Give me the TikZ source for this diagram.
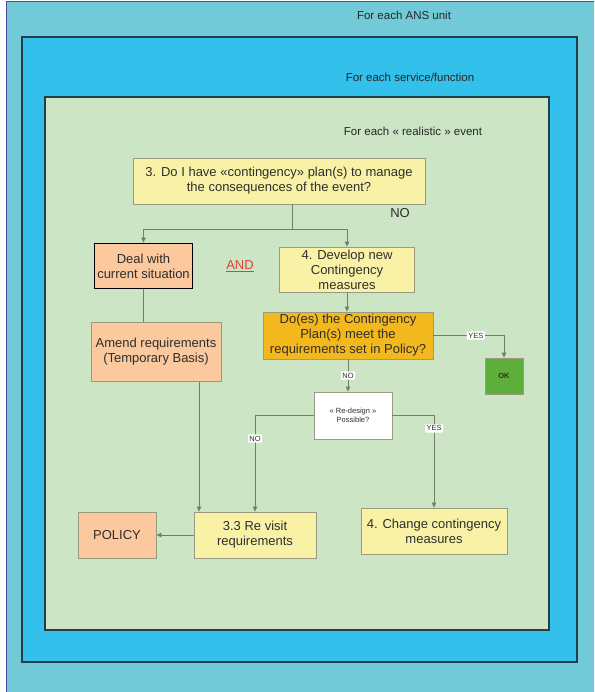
\documentclass[tikz,border=0pt]{standalone}
\usepackage{fontspec}
\setmainfont{Liberation Sans}
\usetikzlibrary{arrows.meta}
\definecolor{outerbg}{HTML}{72CAD8}
\definecolor{midbg}{HTML}{33C1EC}
\definecolor{innerbg}{HTML}{CCE5C4}
\definecolor{framec}{HTML}{1F3F4A}
\definecolor{boxyellow}{HTML}{F9F2A6}
\definecolor{boxorange}{HTML}{FBC99D}
\definecolor{boxgold}{HTML}{F4B81F}
\definecolor{boxgreen}{HTML}{5EAE3A}
\definecolor{edgegray}{HTML}{9A9A80}
\definecolor{linec}{HTML}{6F7F6A}
\definecolor{txt}{HTML}{2E2E2E}
\definecolor{andred}{HTML}{D9453A}
\tikzset{
  x=1pt, y=-1pt,
  every node/.style={text=txt, font=\fontsize{13}{15}\selectfont},
  flowbox/.style={draw=edgegray, line width=0.8pt, align=center, inner sep=2pt},
  yellowbox/.style={flowbox, fill=boxyellow},
  orangebox/.style={flowbox, fill=boxorange},
  tag/.style={fill=white, rounded corners=1pt, inner sep=1.5pt,
    font=\fontsize{7.5}{8}\selectfont},
  conn/.style={draw=linec, line width=0.8pt},
  arr/.style={conn, -{Triangle[length=5pt,width=4.5pt]}},
  frametitle/.style={font=\fontsize{11.5}{13}\selectfont, text=black!85}
}
\begin{document}
\begin{tikzpicture}
\useasboundingbox (0,0) rectangle (594,692);
\clip (0,0) rectangle (594,692);
% nested scope frames
\fill[white] (0,0) rectangle (594,692);
\draw[fill=outerbg, draw=blue!50!black!70, line width=0.6pt] (6,1) rectangle (600,700);
\draw[fill=midbg, draw=framec, line width=1.4pt] (22,37) rectangle (577,662);
\draw[fill=innerbg, draw=framec, line width=1.4pt] (45,97) rectangle (549,630);
\node[frametitle] (tunit) at (404,15) {For each ANS unit};
\node[frametitle] (tserv) at (410,77) {For each service/function};
\node[frametitle] (tevent) at (413,131) {For each « realistic » event};

% boxes
\node[yellowbox, minimum width=292pt, minimum height=46pt] (q3) at (279,181)
  {3. Do I have «contingency» plan(s) to manage\\the consequences of the event?};
\node (qno) at (400,213) {NO};
\node[orangebox, draw=black, line width=1.8pt, minimum width=98pt, minimum height=45pt] (deal) at (143.5,266)
  {Deal with\\current situation};
\node[text=andred] (and) at (240,266) {\underline{AND}};
\node[yellowbox, minimum width=135pt, minimum height=45pt] (dev) at (347,269.5)
  {4. Develop new\\Contingency\\measures};
\node[orangebox, minimum width=130pt, minimum height=59pt] (amend) at (156,352)
  {Amend requirements\\(Temporary Basis)};
\node[flowbox, fill=boxgold, minimum width=170pt, minimum height=47pt] (does) at (348,335.5)
  {Do(es) the Contingency\\Plan(s) meet the\\requirements set in Policy?};
\node[flowbox, fill=boxgreen, minimum width=38pt, minimum height=36pt,
  font=\bfseries\fontsize{7.5}{9}\selectfont] (ok) at (504,376) {OK};
\node[flowbox, fill=white, minimum width=78pt, minimum height=47pt,
  font=\fontsize{7.5}{9}\selectfont] (redesign) at (353,415.5) {« Re-design »\\Possible?};
\node[yellowbox, minimum width=122pt, minimum height=46pt] (revisit) at (255,535)
  {3.3 Re visit\\requirements};
\node[orangebox, minimum width=78pt, minimum height=46pt] (policy) at (117,535) {POLICY};
\node[yellowbox, minimum width=146pt, minimum height=46pt] (change) at (434,531)
  {4. Change contingency\\measures};

% routing points
\coordinate (split) at (292,229);
\coordinate (amendx) at (199,0);

% connectors
\draw[conn] (q3.south -| split) -- (split);
\draw[arr] (split) -| (deal.north);
\draw[arr] (split) -| (dev.north);
\draw[conn] (deal.south) -- (deal.south |- amend.north);
\draw[arr] (amend.south -| amendx) -- (revisit.north -| amendx);
\draw[arr] (dev.south) -- (dev.south |- does.north);
\draw[arr] (does.east) -| (ok.north) node[tag, pos=0.3] {YES};
\draw[arr] (does.south) -- (does.south |- redesign.north) node[tag, midway] {NO};
\draw[arr] (redesign.west) -| (revisit.north) node[tag, pos=0.62] {NO};
\draw[arr] (redesign.east) -| (change.north) node[tag, pos=0.57] {YES};
\draw[arr] (revisit.west) -- (policy.east);
\end{tikzpicture}
\end{document}
